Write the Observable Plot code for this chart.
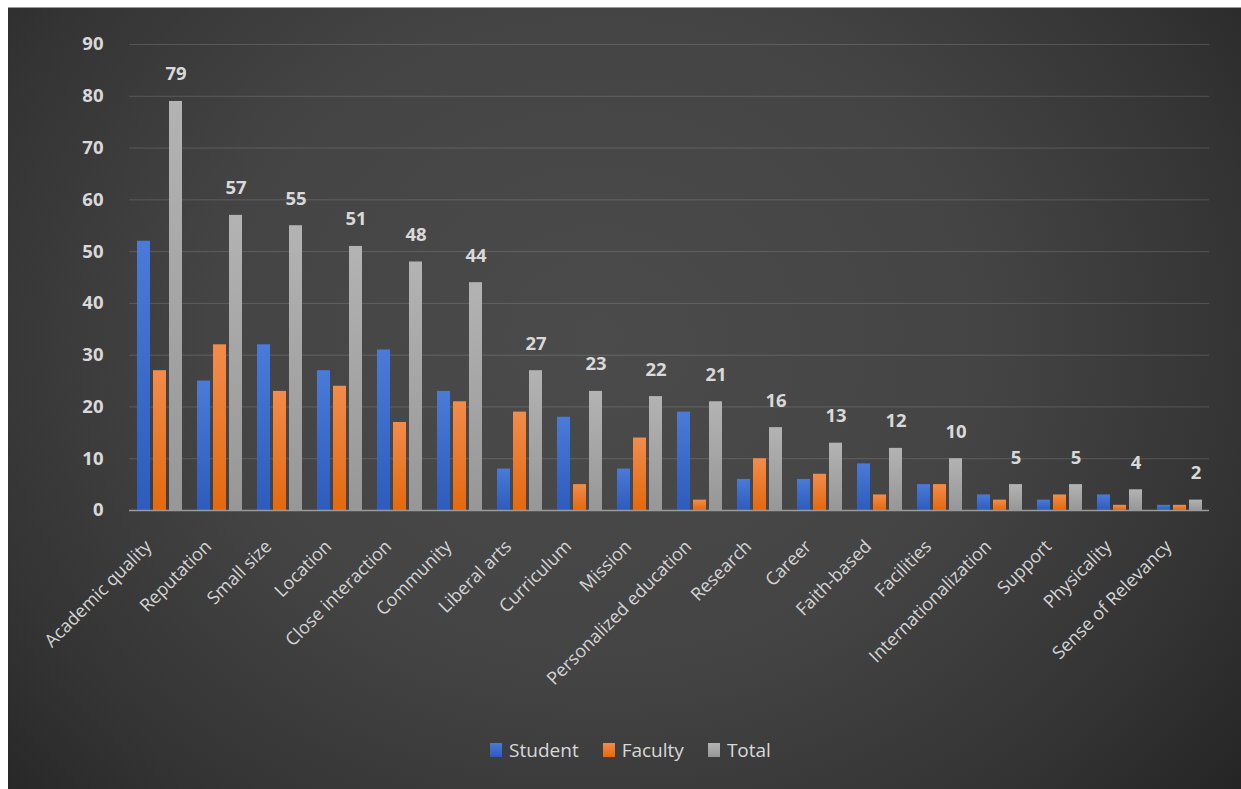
<!DOCTYPE html>
<html>
<head>
<meta charset="utf-8">
<script src="https://cdn.jsdelivr.net/npm/d3@7"></script>
<script src="https://cdn.jsdelivr.net/npm/@observablehq/plot@0.6"></script>
<style>
  html, body { margin: 0; padding: 0; background: #ffffff; width: 1241px; height: 789px; overflow: hidden; }
  #panel {
    position: absolute; left: 8px; top: 7px; width: 1233px; height: 782px;
    background: radial-gradient(ellipse 70% 95% at 48% 42%, #4b4b4b 0%, #444444 45%, #343434 75%, #222222 100%);
    border-top: 1px solid #9a9a9a;
    font-family: "Open Sans", sans-serif;
  }
  #chart { position: absolute; left: 0; top: 0; }
  #legend {
    position: absolute; left: 0; width: 1233px; top: 729px; height: 26px;
    display: flex; justify-content: center; align-items: center; gap: 0;
    color: #d9d9d9; font-size: 19px; padding-left: 12px; box-sizing: border-box;
  }
  .item { display: flex; align-items: center; margin: 0 12px; }
  .sw { width: 12px; height: 14px; margin-right: 7px; }
</style>
</head>
<body>
<svg width="0" height="0" style="position:absolute">
  <defs>
    <linearGradient id="gS" x1="0" y1="0" x2="0" y2="1">
      <stop offset="0" stop-color="#4a7bd8"/>
      <stop offset="1" stop-color="#2d5cbc"/>
    </linearGradient>
    <linearGradient id="gF" x1="0" y1="0" x2="0" y2="1">
      <stop offset="0" stop-color="#f28c4c"/>
      <stop offset="1" stop-color="#e4690f"/>
    </linearGradient>
    <linearGradient id="gT" x1="0" y1="0" x2="0" y2="1">
      <stop offset="0" stop-color="#b3b3b3"/>
      <stop offset="1" stop-color="#979797"/>
    </linearGradient>
  </defs>
</svg>
<div id="panel">
  <div id="chart"></div>
  <div id="legend">
    <div class="item"><div class="sw" style="background:linear-gradient(#4a7bd8,#2d5cbc)"></div>Student</div>
    <div class="item"><div class="sw" style="background:linear-gradient(#f28c4c,#e4690f)"></div>Faculty</div>
    <div class="item"><div class="sw" style="background:linear-gradient(#b3b3b3,#979797)"></div>Total</div>
  </div>
</div>
<script>
const categories = ["Academic quality", "Reputation", "Small size", "Location", "Close interaction",
  "Community", "Liberal arts", "Curriculum", "Mission", "Personalized education", "Research",
  "Career", "Faith-based", "Facilities", "Internationalization", "Support", "Physicality",
  "Sense of Relevancy"];
const student = [52, 25, 32, 27, 31, 23, 8, 18, 8, 19, 6, 6, 9, 5, 3, 2, 3, 1];
const faculty = [27, 32, 23, 24, 17, 21, 19, 5, 14, 2, 10, 7, 3, 5, 2, 3, 1, 1];
const total = [79, 57, 55, 51, 48, 44, 27, 23, 22, 21, 16, 13, 12, 10, 5, 5, 4, 2];
const seriesNames = ["Student", "Faculty", "Total"];
const yTicks = [0, 10, 20, 30, 40, 50, 60, 70, 80, 90];

const studentRows = categories.map((c, i) => ({category: c, series: "Student", value: student[i]}));
const facultyRows = categories.map((c, i) => ({category: c, series: "Faculty", value: faculty[i]}));
const totalRows = categories.map((c, i) => ({category: c, series: "Total", value: total[i]}));

const chart = Plot.plot({
  width: 1233,
  height: 700,
  marginLeft: 117,
  marginRight: 29,
  marginTop: 36,
  marginBottom: 198,
  style: {background: "transparent", color: "#d9d9d9", fontFamily: "Open Sans, sans-serif", fontSize: "16.5px"},
  fx: {domain: categories, padding: 0, label: null},
  x: {domain: seriesNames, axis: null, paddingInner: 0.2, paddingOuter: 0.37},
  y: {domain: [0, 90], axis: null},
  marks: [
    Plot.gridY(yTicks.slice(1), {stroke: "#ffffff", strokeOpacity: 0.15, strokeWidth: 1}),
    Plot.axisY(yTicks, {tickSize: 0, tickPadding: 26, fontSize: 18.5, fontWeight: "bold", label: null}),
    Plot.axisFx({anchor: "bottom", tickRotate: -45, tickSize: 0, tickPadding: 8, dx: -11, dy: 25,
      fontSize: 18, label: null, fill: "#d4d4d4"}),
    Plot.barY(studentRows, {fx: "category", x: "series", y: "value", fill: "url(#gS)"}),
    Plot.barY(facultyRows, {fx: "category", x: "series", y: "value", fill: "url(#gF)"}),
    Plot.barY(totalRows, {fx: "category", x: "series", y: "value", fill: "url(#gT)"}),
    Plot.ruleY([0], {stroke: "#9a9a9a", strokeWidth: 1.5}),
    Plot.text(totalRows, {fx: "category", x: "series", y: "value", text: d => String(d.value),
      dy: -27, fontSize: 18.5, fontWeight: "bold", fill: "#d9d9d9"})
  ]
});
document.getElementById("chart").appendChild(chart);
</script>
</body>
</html>
